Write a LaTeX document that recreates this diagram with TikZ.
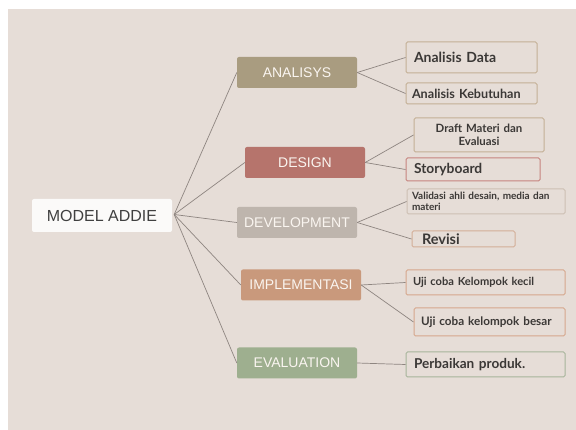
\documentclass[tikz,border=0pt]{standalone}
\usepackage{fontspec}
\setmainfont{Liberation Sans}
\newfontfamily\kidfont{Lato}
\usetikzlibrary{calc}

\definecolor{bgbeige}{HTML}{E6DDD7}
\definecolor{linegrey}{HTML}{8E8580}
\definecolor{cAnalisys}{HTML}{A99C80}
\definecolor{cDesign}{HTML}{B6746C}
\definecolor{cDevelop}{HTML}{BEB5AD}
\definecolor{cImplement}{HTML}{C9997C}
\definecolor{cEval}{HTML}{9EAF8F}
\definecolor{kidtext}{HTML}{3B3836}
\definecolor{bTan}{HTML}{C3AF95}
\definecolor{bRed}{HTML}{C6837E}
\definecolor{bGrey}{HTML}{CDBFB3}
\definecolor{bOrange}{HTML}{D6A78C}
\definecolor{bGreen}{HTML}{A7B59B}

\newcommand{\kidsize}[1]{\kidfont\bfseries\fontsize{#1}{#1}\selectfont}

\tikzset{
 phase/.style={rectangle, rounded corners=2pt, fill=#1, text=white!92!brown,
   minimum width=120pt, minimum height=31pt, inner sep=1pt, font=\fontsize{14}{16}\selectfont},
 kid/.style={rectangle, rounded corners=1.5pt, draw=#1, line width=1pt, text=kidtext,
   align=left, inner xsep=8pt, inner ysep=2pt},
 link/.style={draw=linegrey, line width=.7pt}
}

\begin{document}
\begin{tikzpicture}[x=1pt,y=-1pt]
\fill[white] (0,0) rectangle (576,430);
\fill[bgbeige] (8,9) rectangle (576,430);
\useasboundingbox (0,0) rectangle (576,430);

% centre
\node[fill=white!85!bgbeige, rounded corners=2pt, minimum width=140pt, minimum height=33pt,
  text=black!75, font=\fontsize{16}{18}\selectfont] (root) at (102,215.5) {MODEL ADDIE};

% phases
\node[phase=cAnalisys]  (ana) at (297,72.5)  {ANALISYS};
\node[phase=cDesign]    (des) at (305,162.5) {DESIGN};
\node[phase=cDevelop]   (dev) at (297,222.5) {DEVELOPMENT};
\node[phase=cImplement] (imp) at (301,285)   {IMPLEMENTASI};
\node[phase=cEval]      (eva) at (297,363)   {EVALUATION};

% details
\node[kid=bTan, text width=115pt, minimum height=31pt, font=\kidsize{14}] (anadata) at (471.5,57.5) {Analisis Data};
\node[kid=bTan, text width=119pt, minimum height=21pt, inner xsep=6pt, font=\kidsize{12.6}] (anakeb) at (471.5,93.5) {Analisis Kebutuhan};
\node[kid=bTan, text width=114pt, minimum height=34pt, align=center, font=\kidfont\bfseries\fontsize{11.4}{13}\selectfont] (draft) at (479,135) {Draft Materi dan\\Evaluasi};
\node[kid=bRed, text width=118pt, minimum height=23pt, font=\kidsize{13.8}] (story) at (473,169.5) {Storyboard};
\node[kid=bGrey, text width=148pt, minimum height=25pt, inner xsep=5pt, font=\kidfont\bfseries\fontsize{10}{11}\selectfont] (valid) at (486,201.5) {Validasi ahli desain, media dan\\materi};
\node[kid=bOrange!70!bGrey, text width=83pt, minimum height=16pt, inner xsep=10pt, inner ysep=0pt, font=\kidsize{14.5}] (rev) at (463.5,239) {Revisi};
\node[kid=bOrange, text width=145pt, minimum height=25pt, inner xsep=7pt, font=\kidsize{11.1}] (ujikecil) at (485.5,282.5) {Uji coba Kelompok kecil};
\node[kid=bOrange, text width=137pt, minimum height=28pt, inner xsep=7pt, font=\kidsize{11.7}] (ujibesar) at (489.5,322) {Uji coba kelompok besar};
\node[kid=bGreen, text width=143pt, minimum height=25pt, font=\kidsize{13.6}] (perbaikan) at (485.5,364.5) {Perbaikan produk.};

% connectors
\foreach \p in {ana,des,dev,imp,eva}
  \draw[link] ($(root.east)+(2,-1)$) -- (\p.west);
\foreach \p/\k in {ana/anadata, ana/anakeb, des/draft, des/story, dev/valid, dev/rev, imp/ujikecil, imp/ujibesar, eva/perbaikan}
  \draw[link] (\p.east) -- (\k.west);
\end{tikzpicture}
\end{document}
